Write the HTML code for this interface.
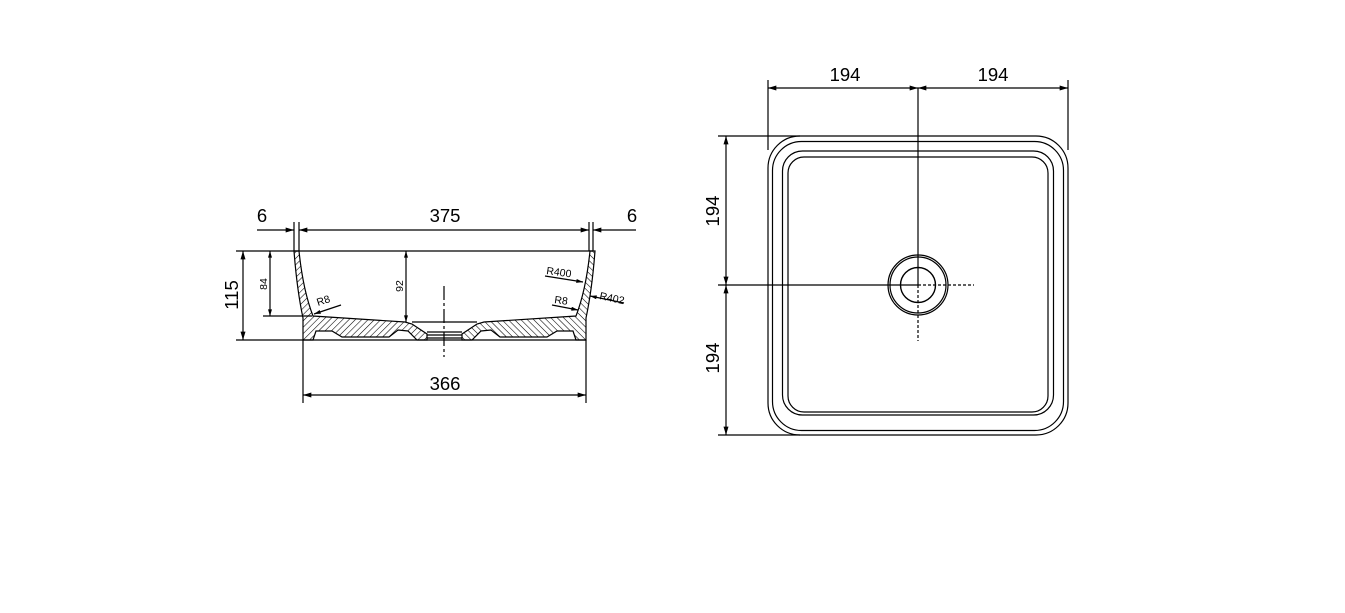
<!DOCTYPE html>
<html><head><meta charset="utf-8"><style>
html,body{margin:0;padding:0;background:#fff;}
svg{display:block;}
text{font-family:"Liberation Sans",sans-serif;fill:#000;}
</style></head><body>
<svg width="1345" height="613" viewBox="0 0 1345 613" xmlns="http://www.w3.org/2000/svg">
<defs>
<pattern id="h" patternUnits="userSpaceOnUse" width="4.5" height="4.5" patternTransform="rotate(45)">
<line x1="0" y1="0" x2="0" y2="4.5" stroke="#000" stroke-width="1.1"/>
</pattern>
<marker id="a" viewBox="0 0 10 6" refX="10" refY="3" markerWidth="14" markerHeight="5" orient="auto-start-reverse" markerUnits="userSpaceOnUse">
<path d="M0,0 L10,3 L0,6 Z" fill="#000"/>
</marker>
<marker id="s" viewBox="0 0 10 6" refX="10" refY="3" markerWidth="9" markerHeight="4" orient="auto-start-reverse" markerUnits="userSpaceOnUse">
<path d="M0,0 L10,3 L0,6 Z" fill="#000"/>
</marker>
</defs>
<g stroke="#000" fill="none" stroke-width="1.2">
<line x1="294" y1="222" x2="294" y2="251"/>
<line x1="299" y1="222" x2="299" y2="251"/>
<line x1="589" y1="222" x2="589" y2="251"/>
<line x1="593" y1="222" x2="593" y2="251"/>
<line x1="303" y1="340" x2="303" y2="403"/>
<line x1="586" y1="340" x2="586" y2="403"/>
<line x1="257" y1="230" x2="294" y2="230" marker-end="url(#a)"/>
<line x1="299" y1="230" x2="589" y2="230" marker-start="url(#a)" marker-end="url(#a)"/>
<line x1="636" y1="230" x2="593" y2="230" marker-end="url(#a)"/>
<line x1="303" y1="395" x2="586" y2="395" marker-start="url(#a)" marker-end="url(#a)"/>
<line x1="236" y1="251" x2="593" y2="251"/>
<line x1="236" y1="340" x2="586" y2="340"/>
<line x1="263" y1="316" x2="312" y2="316"/>
<line x1="243" y1="251" x2="243" y2="340" marker-start="url(#a)" marker-end="url(#a)"/>
<line x1="270" y1="251" x2="270" y2="316" marker-start="url(#s)" marker-end="url(#s)"/>
<line x1="406" y1="251" x2="406" y2="322" marker-start="url(#s)" marker-end="url(#s)"/>
<line x1="444" y1="286" x2="444" y2="357" stroke-dasharray="14,3,3,3"/>
<g id="half">
<path d="M294,251 L299,251 Q303,290 313,316 L405,322 L412,324 L427,334 L427,340 L417,340 L408,331 L398,330 L389,337 L342,337 L332,331 L316,331 L313,340 L303,340 L303,318 Q297,290 294,251 Z" fill="url(#h)"/>
</g>
<use href="#half" transform="translate(889,0) scale(-1,1)"/>
<line x1="412" y1="322" x2="477" y2="322"/>
<line x1="427" y1="332" x2="462" y2="332"/>
<line x1="427" y1="335" x2="462" y2="335"/>
<line x1="427" y1="338" x2="462" y2="338"/>
<line x1="341" y1="305" x2="314" y2="314" marker-end="url(#s)"/>
<line x1="545" y1="276" x2="583" y2="282" marker-end="url(#s)"/>
<line x1="552" y1="305" x2="578" y2="310" marker-end="url(#s)"/>
<line x1="624" y1="303" x2="590" y2="296" marker-end="url(#s)"/>

<line x1="768" y1="80" x2="768" y2="150"/>
<line x1="1068" y1="80" x2="1068" y2="150"/>
<line x1="768" y1="88" x2="918" y2="88" marker-start="url(#a)" marker-end="url(#a)"/>
<line x1="918" y1="88" x2="1068" y2="88" marker-start="url(#a)" marker-end="url(#a)"/>
<line x1="718" y1="136" x2="800" y2="136"/>
<line x1="718" y1="435" x2="800" y2="435"/>
<line x1="718" y1="285" x2="918" y2="285"/>
<line x1="726" y1="136" x2="726" y2="285" marker-start="url(#a)" marker-end="url(#a)"/>
<line x1="726" y1="285" x2="726" y2="435" marker-start="url(#a)" marker-end="url(#a)"/>
<line x1="918" y1="88" x2="918" y2="285"/>
<line x1="918" y1="285" x2="918" y2="341" stroke-dasharray="3,2"/>
<line x1="918" y1="285" x2="974" y2="285" stroke-dasharray="3,2"/>
<rect x="768" y="136" width="300" height="299" rx="32"/>
<rect x="772.5" y="141.5" width="291" height="289" rx="29"/>
<rect x="782.5" y="151" width="271" height="264" rx="20"/>
<rect x="788" y="157" width="260" height="255" rx="16"/>
<circle cx="918" cy="285" r="30"/>
<circle cx="918" cy="285" r="28"/>
<circle cx="918" cy="285" r="17.5" stroke-width="1.4"/>
</g>
<g font-size="18.5">
<text x="262" y="222" text-anchor="middle">6</text>
<text x="445" y="222" text-anchor="middle">375</text>
<text x="632" y="222" text-anchor="middle">6</text>
<text x="445" y="390" text-anchor="middle">366</text>
<text x="845" y="81" text-anchor="middle">194</text>
<text x="993" y="81" text-anchor="middle">194</text>
<text transform="translate(238,295) rotate(-90)" text-anchor="middle">115</text>
<text transform="translate(719,211) rotate(-90)" text-anchor="middle">194</text>
<text transform="translate(719,358) rotate(-90)" text-anchor="middle">194</text>
</g>
<g font-size="10.5">
<text transform="translate(267,284) rotate(-90)" text-anchor="middle">84</text>
<text transform="translate(403,286) rotate(-90)" text-anchor="middle">92</text>
<text x="318" y="306" transform="rotate(-18 318 306)">R8</text>
<text x="546" y="274" transform="rotate(8 546 274)">R400</text>
<text x="554" y="303" transform="rotate(8 554 303)">R8</text>
<text x="599" y="299" transform="rotate(12 599 299)">R402</text>
</g>
</svg>
</body></html>
